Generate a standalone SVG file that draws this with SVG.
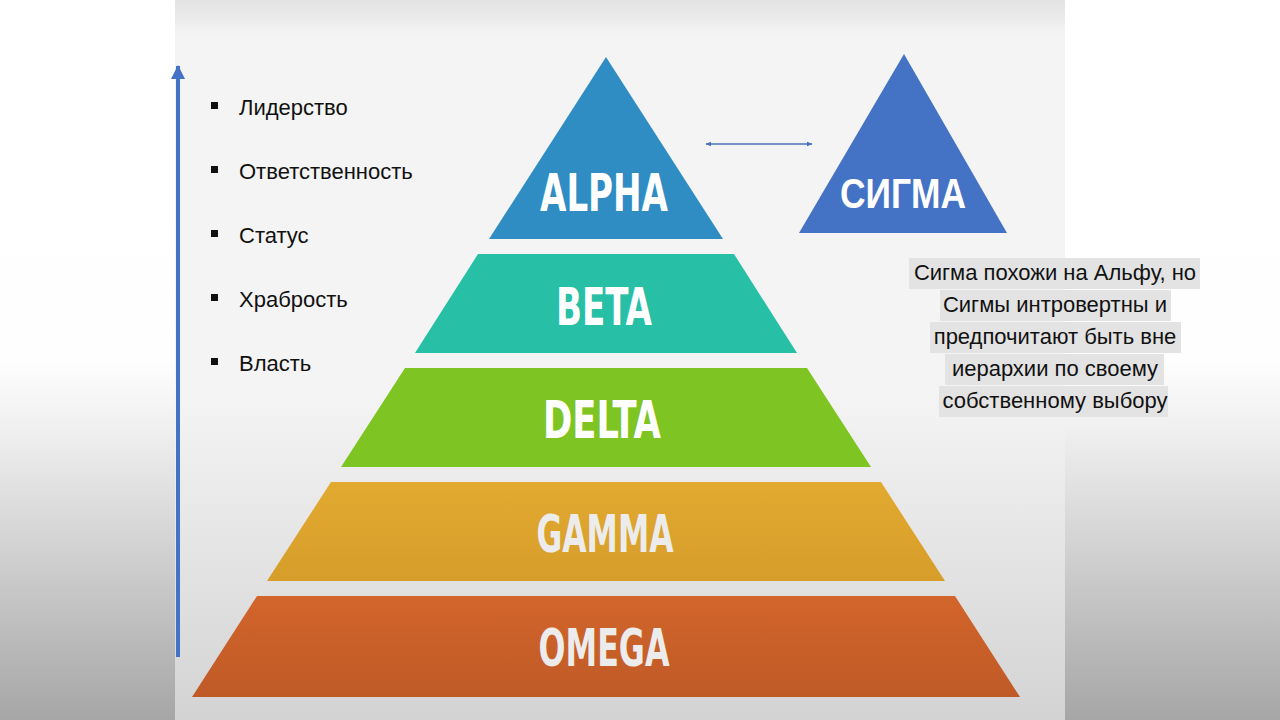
<svg xmlns="http://www.w3.org/2000/svg" width="1280" height="720" viewBox="0 0 1280 720">
<defs>
<linearGradient id="outerBg" x1="0" y1="0" x2="0" y2="1">
<stop offset="0" stop-color="#ffffff"/>
<stop offset="0.5" stop-color="#fefefe"/>
<stop offset="0.6" stop-color="#efefef"/>
<stop offset="1" stop-color="#a6a6a6"/>
</linearGradient>
<linearGradient id="slideBg" x1="0" y1="0" x2="0" y2="1">
<stop offset="0" stop-color="#e2e2e2"/>
<stop offset="0.05" stop-color="#f4f4f4"/>
<stop offset="0.55" stop-color="#f4f4f4"/>
<stop offset="1" stop-color="#d3d3d3"/>
</linearGradient>
<linearGradient id="gGamma" x1="0" y1="0" x2="0" y2="1">
<stop offset="0" stop-color="#e2aa30"/>
<stop offset="1" stop-color="#d69d2a"/>
</linearGradient>
<linearGradient id="gOmega" x1="0" y1="0" x2="0" y2="1">
<stop offset="0" stop-color="#d2652b"/>
<stop offset="1" stop-color="#bf5a27"/>
</linearGradient>
<marker id="arrowSmall" viewBox="0 0 10 10" refX="9" refY="5" markerWidth="6" markerHeight="6" orient="auto-start-reverse" markerUnits="userSpaceOnUse">
<path d="M0,1 L10,5 L0,9 Z" fill="#4a72b8"/>
</marker>
<marker id="arrowBig" viewBox="0 0 14 14" refX="13" refY="7" markerWidth="14" markerHeight="14" orient="auto" markerUnits="userSpaceOnUse">
<path d="M0,0 L14,7 L0,14 Z" fill="#4472c4"/>
</marker>
</defs>
<style>
.lvl{font-family:"Liberation Sans Narrow","DejaVu Sans Condensed","Liberation Sans",sans-serif;font-weight:bold;text-anchor:middle;}
.w{fill:#ffffff;}
.g{fill:#ececec;}
.bul{font-family:"Liberation Sans",Arial,sans-serif;font-size:22px;fill:#111111;}
.note{font-family:"Liberation Sans",Arial,sans-serif;font-size:22px;fill:#111111;text-anchor:middle;}
.hl{fill:#e3e3e3;}
.sq{fill:#111111;}
</style>
<rect x="0" y="0" width="1280" height="720" fill="url(#outerBg)"/>
<rect x="175" y="0" width="890" height="720" fill="url(#slideBg)"/>

<g id="connectors">
<line x1="178" y1="657" x2="178" y2="66" stroke="#4472c4" stroke-width="4" marker-end="url(#arrowBig)"/>
<line x1="706" y1="144" x2="812" y2="144" stroke="#4a72b8" stroke-width="1.5" marker-start="url(#arrowSmall)" marker-end="url(#arrowSmall)"/>
</g>

<g id="alpha">
<polygon points="606,57 723,239 489,239" fill="#2f8dc4"/>
<text class="lvl w" x="604" y="211" font-size="51" textLength="128" lengthAdjust="spacingAndGlyphs">ALPHA</text>
</g>
<g id="beta">
<polygon points="478,254 734,254 797,353 415,353" fill="#27bfa6"/>
<text class="lvl w" x="604" y="325" font-size="51" textLength="96" lengthAdjust="spacingAndGlyphs">BETA</text>
</g>
<g id="delta">
<polygon points="405,368 807,368 871,467 341,467" fill="#7ec423"/>
<text class="lvl w" x="602" y="438" font-size="51" textLength="118" lengthAdjust="spacingAndGlyphs">DELTA</text>
</g>
<g id="gamma">
<polygon points="331,482 881,482 945,581 267,581" fill="url(#gGamma)"/>
<text class="lvl g" x="605" y="552" font-size="51" textLength="137" lengthAdjust="spacingAndGlyphs">GAMMA</text>
</g>
<g id="omega">
<polygon points="257,596 955,596 1020,697 192,697" fill="url(#gOmega)"/>
<text class="lvl g" x="604" y="666" font-size="51" textLength="131" lengthAdjust="spacingAndGlyphs">OMEGA</text>
</g>

<g id="sigma">
<polygon points="904,54 1007,233 799,233" fill="#4472c4"/>
<text x="903" y="208" font-family="'Liberation Sans',Arial,sans-serif" font-weight="bold" font-size="43" fill="#ffffff" text-anchor="middle" textLength="126" lengthAdjust="spacingAndGlyphs">СИГМА</text>
</g>

<g id="bullets">
<rect class="sq" x="211" y="102" width="7" height="7"/>
<text class="bul" x="239" y="115">Лидерство</text>
<rect class="sq" x="211" y="166" width="7" height="7"/>
<text class="bul" x="239" y="179">Ответственность</text>
<rect class="sq" x="211" y="230" width="7" height="7"/>
<text class="bul" x="239" y="243">Статус</text>
<rect class="sq" x="211" y="294" width="7" height="7"/>
<text class="bul" x="239" y="307">Храбрость</text>
<rect class="sq" x="211" y="358" width="7" height="7"/>
<text class="bul" x="239" y="371">Власть</text>
</g>

<g id="note">
<rect class="hl" x="909" y="258" width="291" height="31"/>
<rect class="hl" x="940" y="290" width="231" height="31"/>
<rect class="hl" x="930" y="322" width="251" height="31"/>
<rect class="hl" x="945" y="354" width="219" height="31"/>
<rect class="hl" x="939" y="386" width="229" height="31"/>
<text class="note" x="1055" y="280">Сигма похожи на Альфу, но</text>
<text class="note" x="1055" y="312">Сигмы интровертны и</text>
<text class="note" x="1055" y="344">предпочитают быть вне</text>
<text class="note" x="1055" y="376">иерархии по своему</text>
<text class="note" x="1055" y="408">собственному выбору</text>
</g>
</svg>
